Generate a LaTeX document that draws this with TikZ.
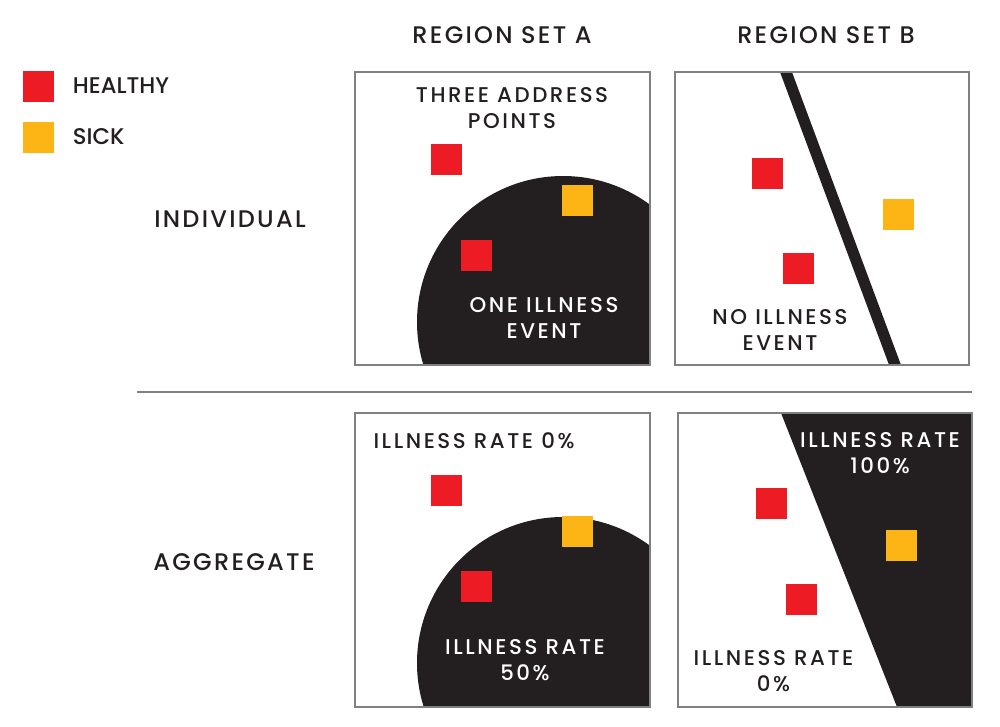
\documentclass[tikz,border=0pt]{standalone}
\usepackage{fontspec}
\setmainfont{Poppins}
\newfontfamily\spacedfont[LetterSpace=12]{Poppins Medium}
\newfontfamily\headfont[LetterSpace=9.5]{Poppins Medium}
\newfontfamily\keyfont{Poppins Medium}
\usepackage{tikz}
\usetikzlibrary{positioning}

\definecolor{healthyred}{HTML}{ED1C24}
\definecolor{sickorange}{HTML}{FDB515}
\definecolor{ink}{HTML}{231F20}
\definecolor{framegray}{HTML}{808080}

\begin{document}
\begin{tikzpicture}[x=0.75pt, y=-0.75pt,
  frame/.style={draw=framegray, line width=0.9pt},
  dot/.style={minimum size=23.25pt, inner sep=0pt, outer sep=0pt},
  healthy/.style={dot, fill=healthyred},
  sick/.style={dot, fill=sickorange},
  key/.style={font=\keyfont\fontsize{17}{19.5}\selectfont, text=ink, inner sep=0pt},
  head/.style={font=\headfont\fontsize{18}{19.5}\selectfont, text=ink, inner sep=0pt},
  lbl/.style={font=\spacedfont\fontsize{16}{19.5}\selectfont, align=center, text=ink, inner sep=0pt},
  inv/.style={lbl, text=white}]
  \useasboundingbox (0,0) rectangle (1000,726);

  % legend
  \node [healthy] (keyhealthy) at (38.5,86) {};
  \node [sick] (keysick) at (38.5,137) {};
  \node [key, right=14pt of keyhealthy] (healthylbl) {HEALTHY};
  \node [key, right=14pt of keysick] (sicklbl) {SICK};

  % column and row heads
  \node [head] (seta) at (502,35) {REGION SET A};
  \node [head] (setb) at (826,35) {REGION SET B};
  \node [head] (individual) at (230,219) {INDIVIDUAL};
  \node [head] (aggregate) at (234,562) {AGGREGATE};
  \draw [framegray, line width=0.9pt] (137,392) -- (972,392);

  % individual, set A
  \begin{scope}
    \clip (355,72) rectangle (650,365);
    \fill [ink] (563,322) circle (109.5pt);
  \end{scope}
  \draw [frame] (355,72) rectangle (650,365);
  \node [healthy] (ia1) at (446.5,159.5) {};
  \node [sick] (ia2) at (577.5,200.5) {};
  \node [healthy] (ia3) at (476.5,255.5) {};
  \node [lbl] (threepts) at (512,108.5) {THREE ADDRESS\\POINTS};
  \node [inv] (oneevent) at (544,317.5) {ONE ILLNESS\\EVENT};

  % individual, set B
  \begin{scope}
    \clip (675,72) rectangle (969,365);
    \draw [ink, line width=8.4pt] (781.5,60) -- (899.5,377);
  \end{scope}
  \draw [frame] (675,72) rectangle (969,365);
  \node [healthy] (ib1) at (767.5,173.5) {};
  \node [healthy] (ib2) at (798.5,268.5) {};
  \node [sick] (ib3) at (898.5,214.5) {};
  \node [lbl] (noevent) at (780,329.5) {NO ILLNESS\\EVENT};

  % aggregate, set A
  \begin{scope}
    \clip (355,413) rectangle (650,707);
    \fill [ink] (563,663) circle (109.5pt);
  \end{scope}
  \draw [frame] (355,413) rectangle (650,707);
  \node [healthy] (aa1) at (446.5,490.5) {};
  \node [sick] (aa2) at (577.5,531.5) {};
  \node [healthy] (aa3) at (476.5,586.5) {};
  \node [lbl] (ratezeroa) at (474,441) {ILLNESS RATE 0\%};
  \node [inv] (ratehalf) at (525,660.5) {ILLNESS RATE\\50\%};

  % aggregate, set B
  \fill [ink] (781,413) -- (972,413) -- (972,707) -- (897,707) -- cycle;
  \draw [frame] (678,413) rectangle (972,707);
  \node [healthy] (ab1) at (771,503.5) {};
  \node [healthy] (ab2) at (801.5,599) {};
  \node [sick] (ab3) at (901.5,545) {};
  \node [inv] (ratefull) at (880,453.5) {ILLNESS RATE\\100\%};
  \node [lbl] (ratezerob) at (773.5,671.5) {ILLNESS RATE\\0\%};
\end{tikzpicture}
\end{document}
